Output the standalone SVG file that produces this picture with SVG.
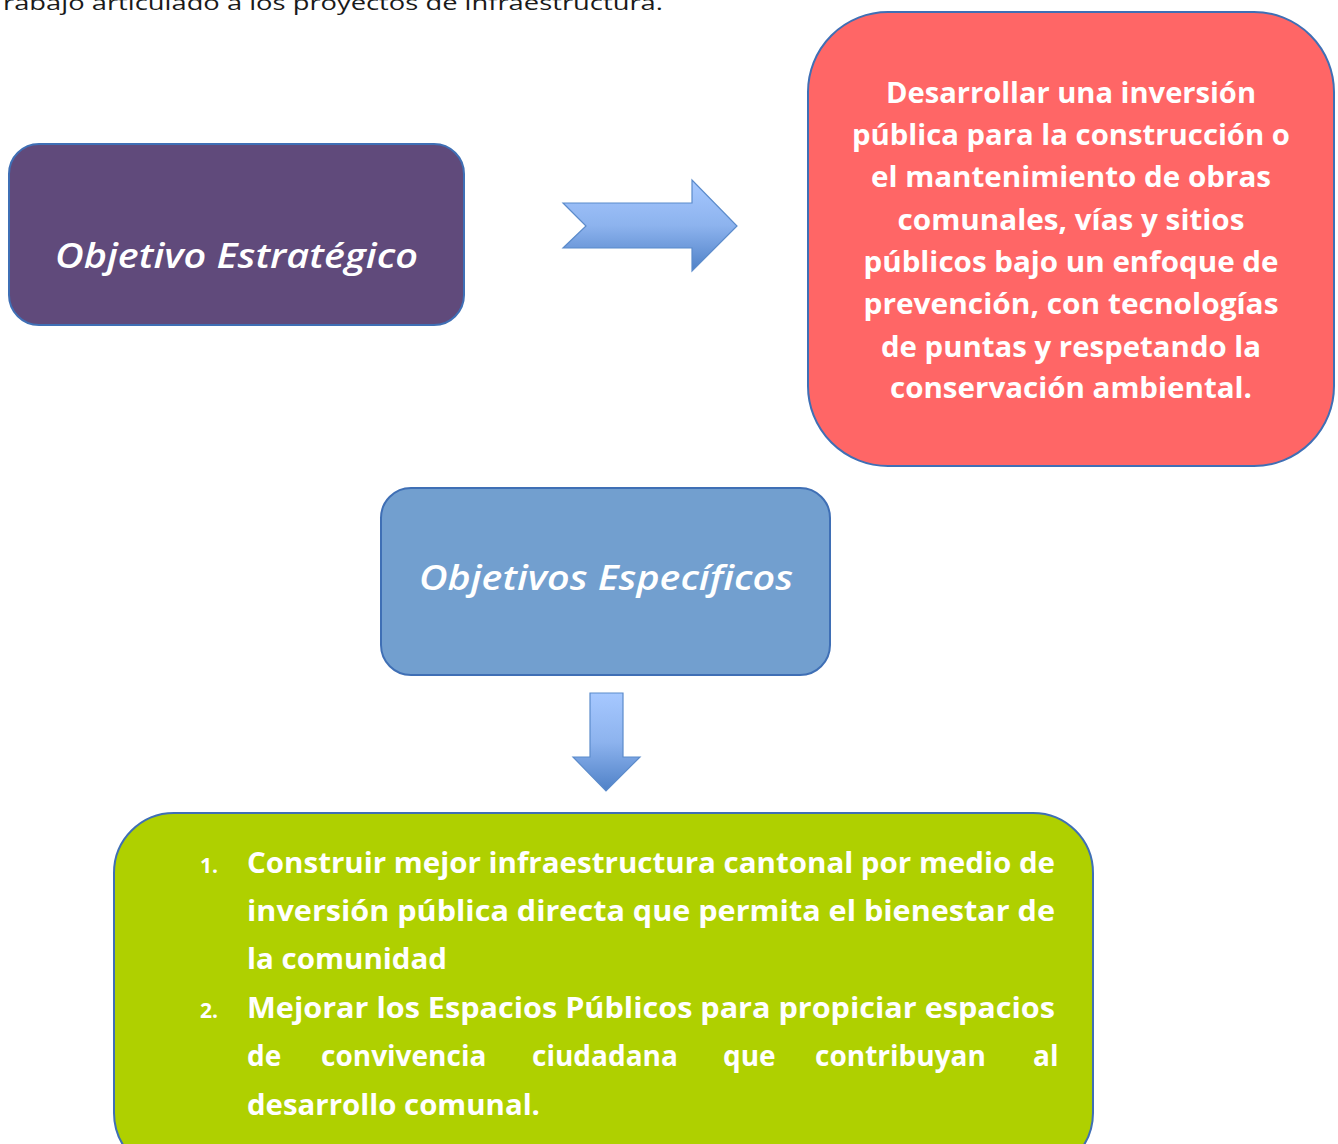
<svg xmlns="http://www.w3.org/2000/svg" width="1338" height="1144" viewBox="0 0 1338 1144">
<defs>
<style>
.box{stroke:#3F6FB5;stroke-width:2}
.t{font-family:"Open Sans","Noto Sans","Liberation Sans",sans-serif;fill:#fff;font-weight:700}
.ti{font-family:"Open Sans","Noto Sans","Liberation Sans",sans-serif;fill:#fff;font-style:italic;font-weight:600;font-size:35px}
.red{font-size:28px;text-anchor:middle}
.grn{font-size:28px}
.num{font-size:21px}
</style>
<linearGradient id="arrowGrad" x1="0" y1="0" x2="0" y2="1">
<stop offset="0" stop-color="#A6C8FF"/>
<stop offset="0.5" stop-color="#8DB3EE"/>
<stop offset="1" stop-color="#4F81C7"/>
</linearGradient>
</defs>
<rect width="1338" height="1144" fill="#fff"/>
<text x="3" y="10" font-family="'Open Sans','Noto Sans',sans-serif" font-size="20" fill="#1a1a1a" textLength="660" lengthAdjust="spacingAndGlyphs">rabajo articulado a los proyectos de infraestructura.</text>

<g id="connectors">
<path d="M563,203 L692,203 L692,180 L737,226 L692,271 L692,248 L563,248 L586,226 Z" fill="url(#arrowGrad)" stroke="#5B8BCB" stroke-width="1.2"/>
<path d="M590,693 L623,693 L623,757 L640,757 L606,791 L573,757 L590,757 Z" fill="url(#arrowGrad)" stroke="#5B8BCB" stroke-width="1.2"/>
</g>

<g id="objetivo-estrategico">
<rect class="box" x="9" y="144" width="455" height="181" rx="30" fill="#604A7B"/>
<text class="ti" x="55" y="268" textLength="363" lengthAdjust="spacingAndGlyphs">Objetivo Estratégico</text>
</g>

<g id="objetivo-descripcion">
<rect class="box" x="808" y="12" width="526" height="454" rx="80" fill="#FF6666"/>
<text class="t red" x="1071" y="103" textLength="370" lengthAdjust="spacingAndGlyphs">Desarrollar una inversión</text>
<text class="t red" x="1071" y="145" textLength="438" lengthAdjust="spacingAndGlyphs">pública para la construcción o</text>
<text class="t red" x="1071" y="187" textLength="400" lengthAdjust="spacingAndGlyphs">el mantenimiento de obras</text>
<text class="t red" x="1071" y="230" textLength="347" lengthAdjust="spacingAndGlyphs">comunales, vías y sitios</text>
<text class="t red" x="1071" y="272" textLength="415" lengthAdjust="spacingAndGlyphs">públicos bajo un enfoque de</text>
<text class="t red" x="1071" y="314" textLength="415" lengthAdjust="spacingAndGlyphs">prevención, con tecnologías</text>
<text class="t red" x="1071" y="357" textLength="380" lengthAdjust="spacingAndGlyphs">de puntas y respetando la</text>
<text class="t red" x="1071" y="398" textLength="362" lengthAdjust="spacingAndGlyphs">conservación ambiental.</text>
</g>

<g id="objetivos-especificos">
<rect class="box" x="381" y="488" width="449" height="187" rx="30" fill="#729FCF"/>
<text class="ti" x="419" y="590" textLength="374" lengthAdjust="spacingAndGlyphs">Objetivos Específicos</text>
</g>

<g id="lista-objetivos">
<rect class="box" x="114" y="813" width="979" height="360" rx="60" fill="#AFD000"/>
<text class="t num" x="200" y="873">1.</text>
<text class="t grn" x="247" y="873" textLength="808" lengthAdjust="spacingAndGlyphs">Construir mejor infraestructura cantonal por medio de</text>
<text class="t grn" x="247" y="921" textLength="808" lengthAdjust="spacingAndGlyphs">inversión pública directa que permita el bienestar de</text>
<text class="t grn" x="247" y="969" textLength="200" lengthAdjust="spacingAndGlyphs">la comunidad</text>
<text class="t num" x="200" y="1018">2.</text>
<text class="t grn" x="247" y="1018" textLength="808" lengthAdjust="spacingAndGlyphs">Mejorar los Espacios Públicos para propiciar espacios</text>
<text class="t grn" y="1066"><tspan x="247">de</tspan><tspan x="321">convivencia</tspan><tspan x="532">ciudadana</tspan><tspan x="723">que</tspan><tspan x="815">contribuyan</tspan><tspan x="1033">al</tspan></text>
<text class="t grn" x="247" y="1115" textLength="293" lengthAdjust="spacingAndGlyphs">desarrollo comunal.</text>
</g>
</svg>
